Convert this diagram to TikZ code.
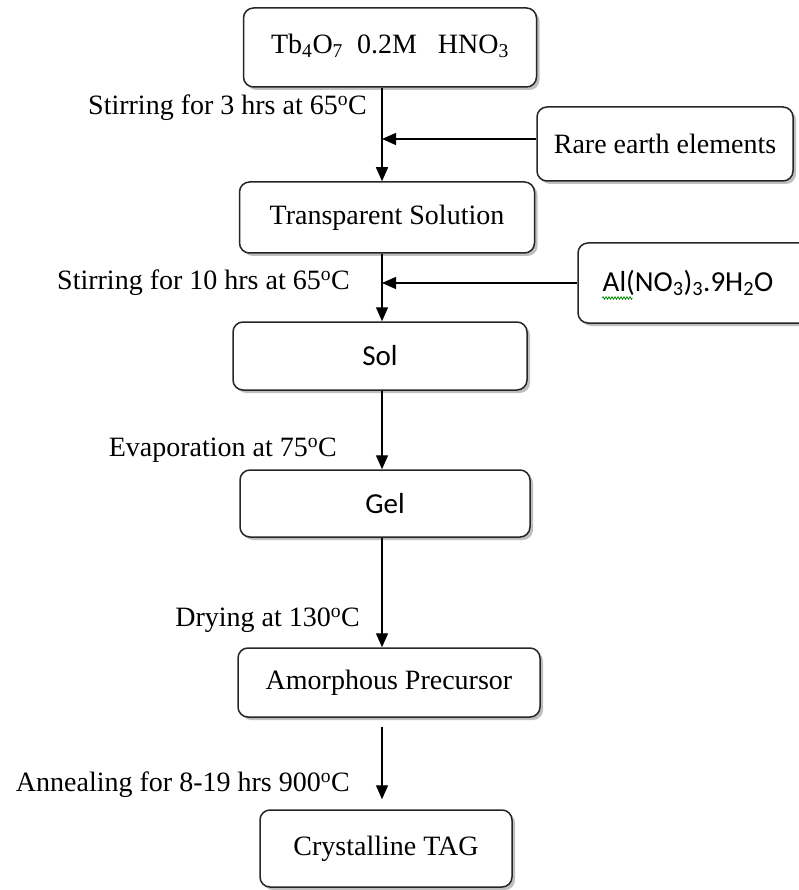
\documentclass[tikz,border=0pt]{standalone}
\usepackage{fontspec}
\setmainfont{Liberation Serif}
\newfontfamily\calibri{Carlito}
\usetikzlibrary{arrows.meta,shadows,decorations.pathmorphing}

\tikzset{
  box/.style={draw=black!85, line width=1.5pt, fill=white, rounded corners=10pt,
    drop shadow={shadow xshift=3pt, shadow yshift=-3pt, fill=black!50},
    inner sep=0pt, font=\fontsize{28}{32}\selectfont},
  sbox/.style={box, font=\calibri\fontsize{29}{33}\selectfont},
  lbl/.style={anchor=east, inner sep=0pt, font=\fontsize{28}{32}\selectfont},
  arr/.style={-{Triangle[width=12pt,length=14pt]}, line width=1.4pt},
}

\begin{document}
\begin{tikzpicture}[x=1pt,y=-1pt]
  \useasboundingbox (0,0) rectangle (798,890);
  \coordinate (spine) at (382,0);

  % process boxes
  \node[box, minimum width=293pt, minimum height=79pt] (tbo) at (390,47.5) {\raisebox{8pt}{Tb\textsubscript{4}O\textsubscript{7}\ \ 0.2M\ \ \ HNO\textsubscript{3}}};
  \node[box, minimum width=256pt, minimum height=74pt] (rare) at (665,144) {Rare earth elements};
  \node[box, minimum width=295pt, minimum height=71pt] (trans) at (387,217.5) {Transparent Solution};
  \node[sbox, minimum width=260pt, minimum height=80pt] (alno) at (708,283) {Al(NO\textsubscript{3})\textsubscript{3}.9H\textsubscript{2}O\kern40pt};
  \node[sbox, minimum width=294pt, minimum height=68pt] (sol) at (380,356) {Sol};
  \node[sbox, minimum width=290pt, minimum height=67pt] (gel) at (385,503.5) {Gel};
  \node[box, minimum width=302pt, minimum height=69pt] (amor) at (389,682.5) {Amorphous Precursor};
  \node[box, minimum width=252pt, minimum height=77pt] (cryst) at (386,848.5) {Crystalline TAG};

  % step labels
  \node[lbl] (l1) at (367,108) {Stirring for 3 hrs at 65\textsuperscript{o}C};
  \node[lbl] (l2) at (350,283) {Stirring for 10 hrs at 65\textsuperscript{o}C};
  \node[lbl] (l3) at (337,450) {Evaporation at 75\textsuperscript{o}C};
  \node[lbl] (l4) at (360,620) {Drying at 130\textsuperscript{o}C};
  \node[lbl] (l5) at (350,785) {Annealing for 8-19 hrs 900\textsuperscript{o}C};

  % arrows
  \draw[arr] (tbo.south -| spine) -- (trans.north -| spine);
  \draw[arr] ([yshift=5pt]rare.west) -- ([yshift=5pt]rare.west -| spine);
  \draw[arr] (trans.south -| spine) -- (sol.north -| spine);
  \draw[arr] (alno.west) -- (alno.west -| spine);
  \draw[arr] (sol.south -| spine) -- (gel.north -| spine);
  \draw[arr] (gel.south -| spine) -- (amor.north -| spine);
  \draw[arr, shorten <=9pt, shorten >=10pt] (amor.south -| spine) -- (cryst.north -| spine);

  % spell-check squiggle
  \draw[green!55!black, line width=0.8pt, decorate, decoration={zigzag, amplitude=1.2pt, segment length=3pt}]
    ([xshift=25pt,yshift=-15pt]alno.west) -- ([xshift=55pt,yshift=-15pt]alno.west);
\end{tikzpicture}
\end{document}
